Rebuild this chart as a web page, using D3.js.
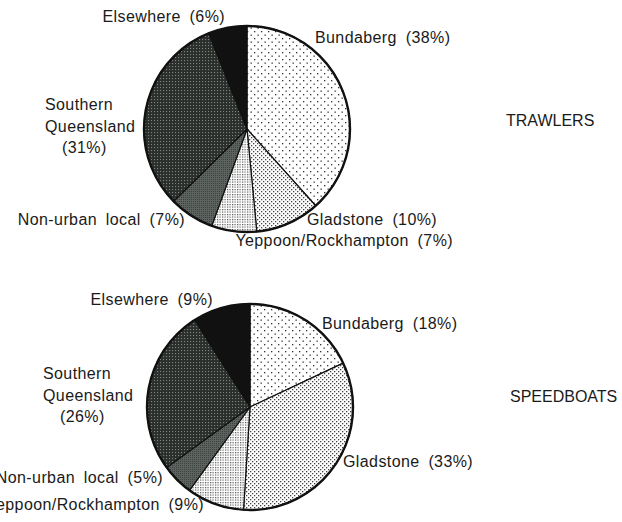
<!DOCTYPE html>
<html>
<head>
<meta charset="utf-8">
<script src="https://cdn.jsdelivr.net/npm/d3@7"></script>
<style>
  body { margin: 0; background: #fff; }
  text { font-family: "Liberation Sans", Arial, sans-serif; fill: #1a1a1a; }
  .lbl { font-size: 16px; letter-spacing: 0.4px; word-spacing: 4px; }
  .ttl { font-size: 16px; }
</style>
</head>
<body>
<div class="chart"></div>
<script type="text/javascript">

// categories, clockwise from 12 o'clock
var categories = ["Bundaberg", "Gladstone", "Yeppoon/Rockhampton", "Non-urban local", "Southern Queensland", "Elsewhere"];
var trawlers   = [38, 10, 7, 7, 31, 6];
var speedboats = [18, 33, 9, 5, 26, 9];
var titles     = ["TRAWLERS", "SPEEDBOATS"];

// how the label of each category is split into lines
var labelLines = function(name, v) {
  if (name == "Southern Queensland") return ["Southern", "Queensland", "(" + v + "%)"];
  return [name + " (" + v + "%)"];
};

// hand placed label anchors (the original was pasted up by hand)
var layoutTop = [
  {x: 315, y: 43,  a: "start"},
  {x: 307, y: 225, a: "start"},
  {x: 453, y: 246, a: "end"},
  {x: 185, y: 225, a: "end"},
  {x: 45,  y: 110, a: "start"},
  {x: 225, y: 22,  a: "end"}
];
var layoutBottom = [
  {x: 322, y: 329, a: "start"},
  {x: 343, y: 467, a: "start"},
  {x: 204, y: 510, a: "end"},
  {x: 163, y: 483, a: "end"},
  {x: 43,  y: 379, a: "start"},
  {x: 213, y: 305, a: "end"}
];

var svg = d3.select(".chart").append("svg").attr("width", 622).attr("height", 522);
var defs = svg.append("defs");

// fill patterns, lightest to darkest
function dots(id, size, bg, fg, r, stagger) {
  var p = defs.append("pattern").attr("id", id).attr("patternUnits", "userSpaceOnUse")
    .attr("width", size).attr("height", size);
  p.append("rect").attr("width", size).attr("height", size).attr("fill", bg);
  p.append("rect").attr("x", 0).attr("y", 0).attr("width", r).attr("height", r).attr("fill", fg);
  if (stagger) p.append("rect").attr("x", size / 2).attr("y", size / 2).attr("width", r).attr("height", r).attr("fill", fg);
}
dots("p0", 7, "#fff", "#333", 1.3, true);
dots("p1", 4, "#fff", "#444", 1.3, true);
dots("p2", 2.5, "#fff", "#555", 1.2, false);
dots("p3", 2, "#5d6460", "#3a403c", 1, false);
dots("p4", 3, "#2b2f2c", "#80847f", 1.1, false);
dots("p5", 4, "#111", "#111", 1, false);
var fills = ["url(#p0)", "url(#p1)", "url(#p2)", "url(#p3)", "url(#p4)", "url(#p5)"];

var pie = d3.pie().sort(null).startAngle(0).endAngle(2 * Math.PI);
var r = 103;
var arc = d3.arc().innerRadius(0).outerRadius(r);

function drawPie(values, cx, cy, layout, title, tx, ty) {
  var g = svg.append("g").attr("transform", "translate(" + cx + "," + cy + ")");
  g.selectAll("path").data(pie(values)).enter().append("path")
    .attr("d", arc)
    .attr("fill", function(d, i) { return fills[i]; })
    .attr("stroke", "#111").attr("stroke-width", 1.2).attr("stroke-linejoin", "round");
  g.append("circle").attr("r", r).attr("fill", "none").attr("stroke", "#111").attr("stroke-width", 2.4);

  categories.forEach(function(c, i) {
    var L = layout[i];
    var lines = labelLines(c, values[i]);
    var t = svg.append("text").attr("class", "lbl").attr("text-anchor", L.a);
    lines.forEach(function(s, k) {
      t.append("tspan").attr("x", L.x + (k == 2 ? 17 : 0)).attr("y", L.y + k * 21.5).text(s);
    });
  });

  svg.append("text").attr("class", "ttl").attr("x", tx).attr("y", ty).text(title);
}

drawPie(trawlers, 247, 129, layoutTop, titles[0], 506, 126);
drawPie(speedboats, 250, 407, layoutBottom, titles[1], 510, 402);

</script>
</body>
</html>
